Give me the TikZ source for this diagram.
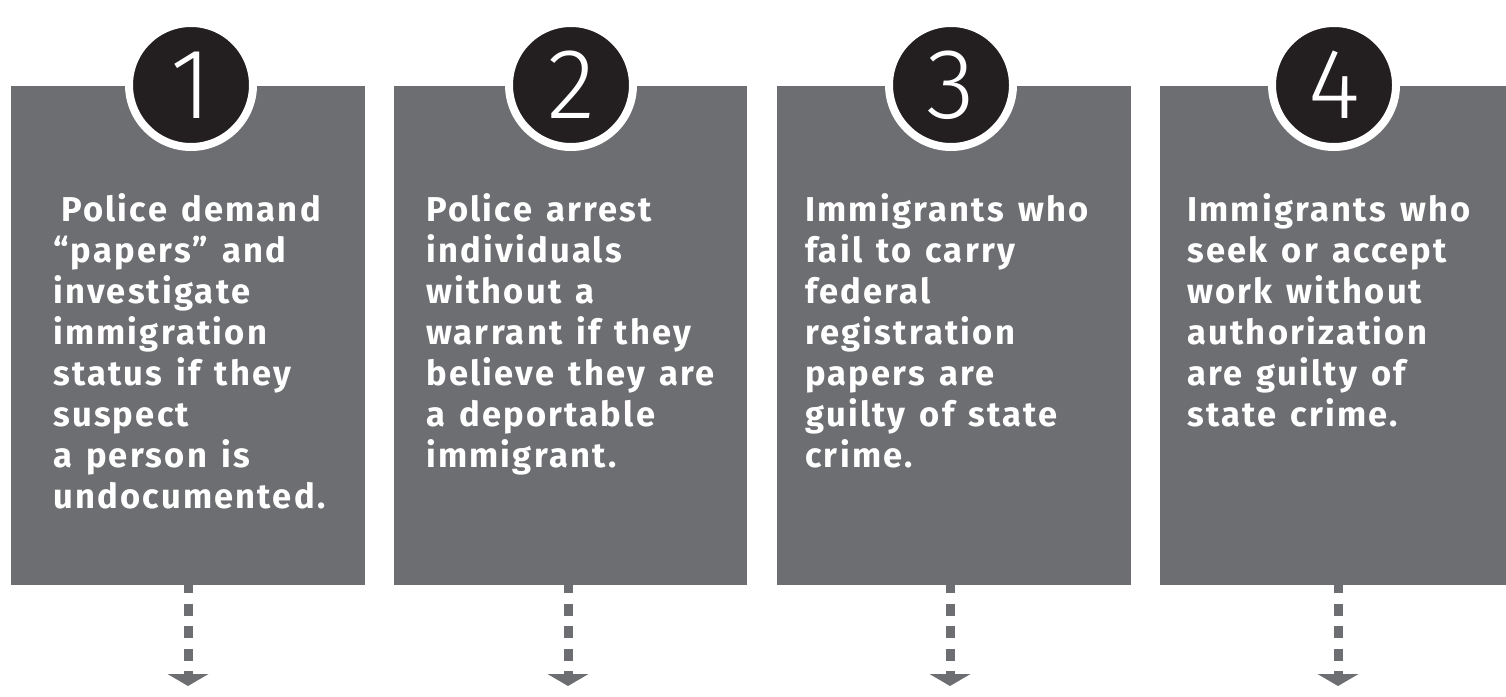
\documentclass[tikz,border=0pt]{standalone}
\usepackage{fontspec}
\setmainfont{Fira Sans}[BoldFont={Fira Sans Bold}]
\IfFontExistsTF{Fira Sans Light}{\newfontfamily\numfont{Fira Sans Light}}{\newfontfamily\numfont{Fira Sans}}
\newfontfamily\bodyfont{Fira Sans Bold}[LetterSpace=6.5, WordSpace=1.35]
\definecolor{boxgray}{HTML}{6D6E71}
\definecolor{circblack}{HTML}{231F20}
\tikzset{
  stepbox/.style={fill=boxgray, draw=none, inner sep=0pt, anchor=north west},
  numcirc/.style={circle, fill=circblack, draw=white, line width=8pt, minimum size=124pt, inner sep=0pt, text=white, font=\numfont\fontsize{100}{100}\selectfont},
  bodytext/.style={anchor=north west, inner sep=0pt, align=left, text=white, font=\bodyfont\fontsize{34.5}{41.1}\selectfont},
  dashline/.style={draw=boxgray, line width=9pt, dash pattern=on 12pt off 10.5pt, dash phase=4pt},
  headfill/.style={fill=boxgray}
}
\begin{document}
\begin{tikzpicture}[x=1pt,y=-1pt]
\useasboundingbox (0,0) rectangle (1506,696);
% arrows
\foreach \i/\ax in {1/188,2/568,3/950,4/1338}{
  \coordinate (e\i) at (\ax,671);
  \coordinate (s\i) at (\ax,585);
  \draw[dashline] (s\i) -- (e\i);
  \fill[headfill] (e\i) ++(-4.5,0) rectangle ++(9,3);
  \fill[headfill] (e\i) ++(-20.5,3) -- ++(41,0) -- ++(-20.5,12) -- cycle;
}
% boxes
\node[stepbox, minimum width=354pt, minimum height=499pt] (b1) at (11,86) {};
\node[stepbox, minimum width=353pt, minimum height=499pt] (b2) at (394,86) {};
\node[stepbox, minimum width=354pt, minimum height=499pt] (b3) at (777,86) {};
\node[stepbox, minimum width=346pt, minimum height=499pt] (b4) at (1160,86) {};
% circles
\node[numcirc] (c1) at (191,85) {1};
\node[numcirc] (c2) at (571,85) {2};
\node[numcirc] (c3) at (951,85) {3};
\node[numcirc] (c4) at (1334,85) {4};
% texts
\node[bodytext] (t1) at (53,193) {\hspace*{8pt}Police demand\\“papers” and\\investigate\\immigration\\status if they\\suspect\\a person is\\undocumented.};
\node[bodytext] (t2) at (426,193) {Police arrest\\individuals\\without a\\warrant if they\\believe they are\\a deportable\\immigrant.};
\node[bodytext] (t3) at (805,193) {Immigrants who\\fail to carry\\federal\\registration\\papers are\\guilty of state\\crime.};
\node[bodytext] (t4) at (1187,193) {Immigrants who\\seek or accept\\work without\\authorization\\are guilty of\\state crime.};
\end{tikzpicture}
\end{document}
